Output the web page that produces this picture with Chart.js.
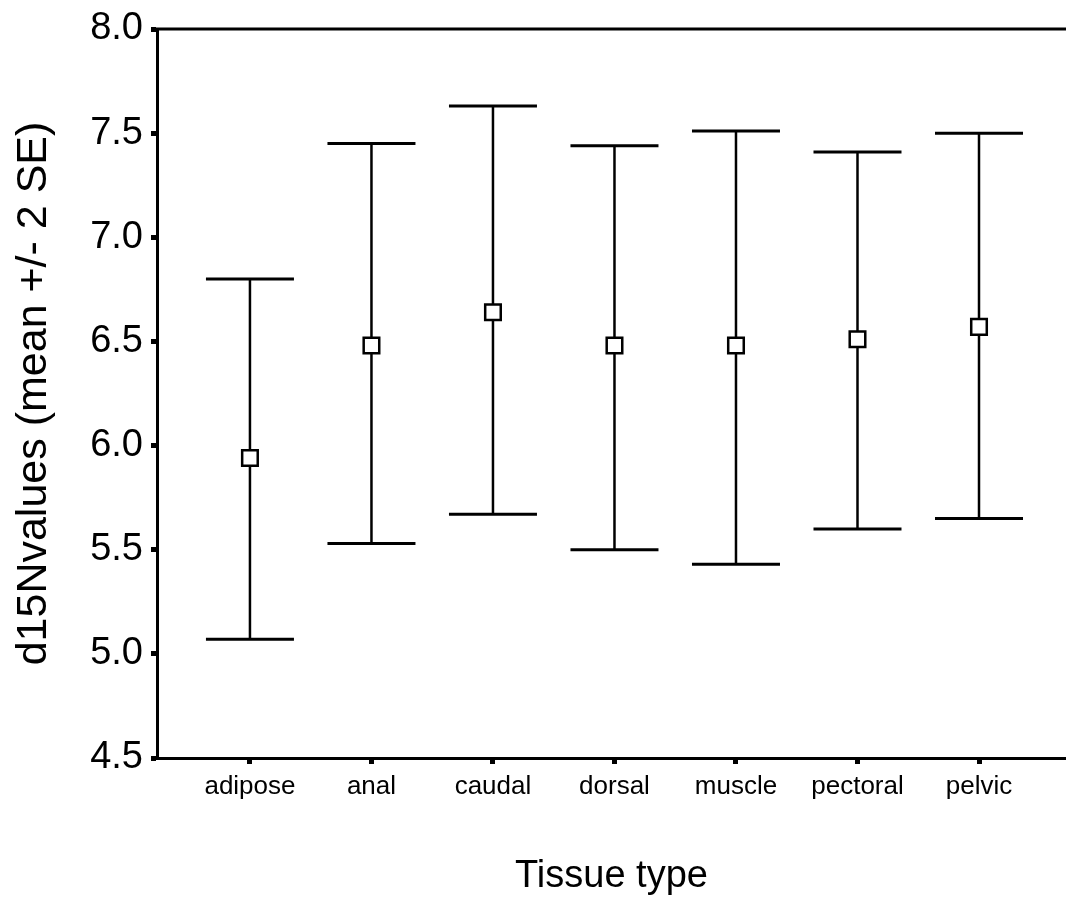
<!DOCTYPE html>
<html>
<head>
<meta charset="utf-8">
<script src="https://cdn.jsdelivr.net/npm/chart.js@4.4.1/dist/chart.umd.min.js"></script>
<style>
  html, body { margin: 0; padding: 0; background: #fff; overflow: hidden; }
  #wrap { width: 1066px; height: 899px; position: relative; }
</style>
</head>
<body>
<div id="wrap"><canvas id="chart"></canvas></div>
<script>
// Tissue types and d15N values (mean, mean +/- 2 SE)
const tissues = ['adipose', 'anal', 'caudal', 'dorsal', 'muscle', 'pectoral', 'pelvic'];
const means = [5.94, 6.48, 6.64, 6.48, 6.48, 6.51, 6.57];
const upper = [6.80, 7.45, 7.63, 7.44, 7.51, 7.41, 7.50];
const lower = [5.07, 5.53, 5.67, 5.50, 5.43, 5.60, 5.65];
const yTicks = [4.5, 5.0, 5.5, 6.0, 6.5, 7.0, 7.5, 8.0];

const FONT = "'Liberation Sans', Arial, sans-serif";

// whiskers + caps, drawn under the mean markers
const errorBars = {
    id: 'errorBars',
    beforeDatasetsDraw(chart) {
        const ctx = chart.ctx;
        const xs = chart.scales.x, ys = chart.scales.y;
        const capHalf = 44;
        ctx.save();
        ctx.strokeStyle = '#000';
        tissues.forEach((t, i) => {
            const x = xs.getPixelForValue(i + 1);
            const yHi = ys.getPixelForValue(upper[i]);
            const yLo = ys.getPixelForValue(lower[i]);
            ctx.lineWidth = 2.5;
            ctx.beginPath();
            ctx.moveTo(x, yHi);
            ctx.lineTo(x, yLo);
            ctx.stroke();
            ctx.lineWidth = 3;
            ctx.beginPath();
            ctx.moveTo(x - capHalf, yHi);
            ctx.lineTo(x + capHalf, yHi);
            ctx.moveTo(x - capHalf, yLo);
            ctx.lineTo(x + capHalf, yLo);
            ctx.stroke();
        });
        ctx.restore();
    }
};

// top frame line, runs off the right edge like the original
const topLine = {
    id: 'topLine',
    afterDraw(chart) {
        const a = chart.chartArea, ctx = chart.ctx;
        ctx.save();
        ctx.strokeStyle = '#000';
        ctx.lineWidth = 3;
        ctx.beginPath();
        ctx.moveTo(a.left - 1.5, a.top);
        ctx.lineTo(chart.width, a.top);
        ctx.stroke();
        ctx.restore();
    }
};

new Chart(document.getElementById('chart'), {
    type: 'scatter',
    data: {
        datasets: [{
            data: means.map((m, i) => ({ x: i + 1, y: m })),
            pointStyle: 'rect',
            pointRadius: 11,
            pointHoverRadius: 11,
            pointBackgroundColor: '#fff',
            pointBorderColor: '#000',
            pointBorderWidth: 2.5
        }]
    },
    options: {
        responsive: true,
        maintainAspectRatio: false,
        animation: false,
        layout: { autoPadding: false, padding: { left: 8, top: 29, right: 0, bottom: 0 } },
        plugins: {
            legend: { display: false },
            tooltip: { enabled: false }
        },
        scales: {
            x: {
                type: 'linear',
                min: 0.235,
                max: 7.716,
                afterBuildTicks: s => { s.ticks = tissues.map((t, i) => ({ value: i + 1 })); },
                afterFit: s => { s.height = 141; s.paddingLeft = 0; s.paddingRight = 0; },
                border: { color: '#000', width: 3 },
                grid: { drawOnChartArea: false, tickLength: 6, tickWidth: 5, tickColor: '#000' },
                ticks: {
                    color: '#000',
                    padding: 7,
                    maxRotation: 0,
                    font: { family: FONT, size: 26 },
                    callback: v => tissues[v - 1]
                },
                title: {
                    display: true,
                    text: 'Tissue type',
                    color: '#000',
                    font: { family: FONT, size: 38 },
                    padding: { top: 44, bottom: 0 }
                }
            },
            y: {
                min: 4.5,
                max: 8.0,
                afterBuildTicks: s => { s.ticks = yTicks.map(v => ({ value: v })); },
                afterFit: s => { s.width = 149; s.paddingTop = 0; s.paddingBottom = 0; },
                border: { color: '#000', width: 3 },
                grid: { drawOnChartArea: false, tickLength: 6, tickWidth: 5, tickColor: '#000' },
                ticks: {
                    color: '#000',
                    padding: 8,
                    font: { family: FONT, size: 38 },
                    callback: v => v.toFixed(1)
                },
                title: {
                    display: true,
                    text: 'd15Nvalues (mean +/- 2 SE)',
                    color: '#000',
                    font: { family: FONT, size: 43 },
                    padding: { top: 0, bottom: 0 }
                }
            }
        }
    },
    plugins: [errorBars, topLine]
});
</script>
</body>
</html>
